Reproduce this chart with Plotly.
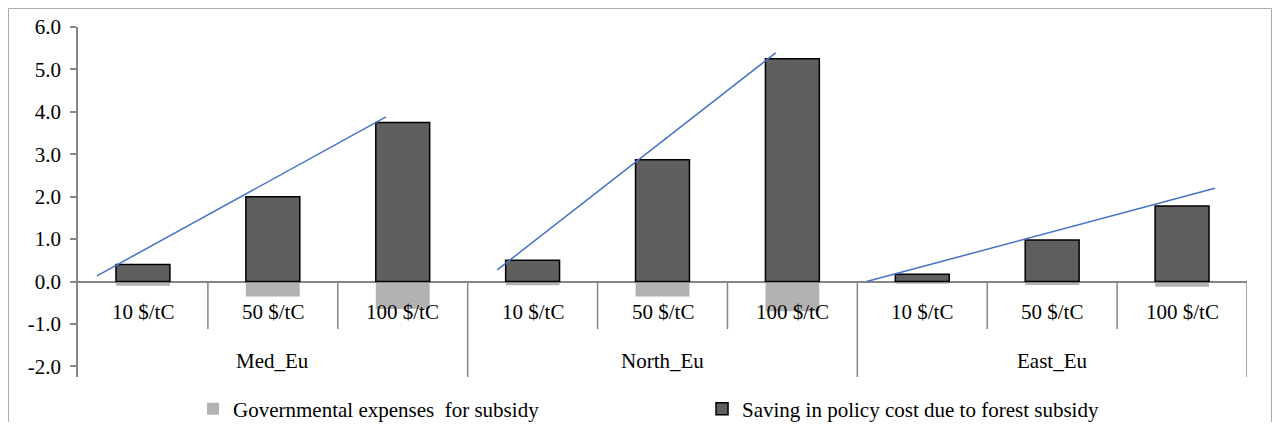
import plotly.graph_objects as go

# ---- data ----
groups = ["Med_Eu", "North_Eu", "East_Eu"]
prices = ["10 $/tC", "50 $/tC", "100 $/tC"]
gov_expenses = [-0.10, -0.35, -0.65, -0.09, -0.35, -0.70, -0.05, -0.08, -0.12]
saving = [0.40, 2.00, 3.75, 0.50, 2.87, 5.25, 0.17, 0.98, 1.78]
# hand-drawn trend lines per group: category-position start/end and value start/end
trend_x = [[-0.354, 1.871], [2.728, 4.871], [5.571, 8.253]]
trend_y = [[0.135, 3.88], [0.276, 5.39], [0.0, 2.20]]
y_ticks = [-2, -1, 0, 1, 2, 3, 4, 5, 6]

FONT = "Liberation Serif, Times New Roman, serif"
FS = 21
AX = "#868686"
n_cat = len(groups) * len(prices)
xpos = list(range(n_cat))

fig = go.Figure()
fig.add_trace(go.Bar(x=xpos, y=gov_expenses, name="Governmental expenses  for subsidy",
                     marker=dict(color="#B2B2B2", line=dict(width=0)), width=0.415))
fig.add_trace(go.Bar(x=xpos, y=saving, name="Saving in policy cost due to forest subsidy",
                     marker=dict(color="#5F5F5F", line=dict(color="#000000", width=1.5)), width=0.415))
for tx, ty in zip(trend_x, trend_y):
    fig.add_trace(go.Scatter(x=tx, y=ty, mode="lines", showlegend=False,
                             line=dict(color="#4472C4", width=1.5), hoverinfo="skip"))

shapes = []
ylo = -2.25
# category dividers
for k in range(1, n_cat + 1):
    long = (k % len(prices) == 0)
    shapes.append(dict(type="line", xref="x", yref="y", x0=k - 0.5, x1=k - 0.5,
                       y0=0, y1=ylo if long else -1.12, line=dict(color=AX, width=1.5)))
# outer border
shapes.append(dict(type="rect", xref="paper", yref="paper", x0=-0.0595, x1=1.021,
                   y0=-0.2, y1=1.053, line=dict(color="#A6A6A6", width=1)))

annotations = []
for i in range(n_cat):
    annotations.append(dict(x=i, y=-0.72, xref="x", yref="y", text=prices[i % len(prices)],
                            showarrow=False, font=dict(family=FONT, size=FS, color="black")))
for g, name in enumerate(groups):
    annotations.append(dict(x=g * len(prices) + 1, y=-1.87, xref="x", yref="y", text=name,
                            showarrow=False, font=dict(family=FONT, size=FS, color="black")))

fig.update_layout(
    width=1264, height=414,
    margin=dict(l=70, r=25, t=19, b=45, autoexpand=False),
    barmode="relative",
    plot_bgcolor="white", paper_bgcolor="white",
    font=dict(family=FONT, size=FS, color="black"),
    shapes=shapes, annotations=annotations,
    legend=dict(orientation="h", x=0.0984, xanchor="left", y=-0.092, yanchor="middle",
                font=dict(family=FONT, size=FS, color="black"),
                entrywidth=464, entrywidthmode="pixels", itemwidth=30, traceorder="normal"),
    showlegend=True,
)
fig.update_xaxes(range=[-0.5, n_cat - 0.5], showticklabels=False, showgrid=False,
                 zeroline=False, showline=False, ticks="")
fig.update_yaxes(range=[ylo, 6.0], tickvals=y_ticks, ticktext=[f"{v:.1f}" for v in y_ticks],
                 showgrid=False, showline=True, linecolor=AX, linewidth=1.5,
                 ticks="outside", ticklen=6, tickcolor=AX, tickwidth=1.5,
                 zeroline=True, zerolinecolor=AX, zerolinewidth=1.5,
                 tickfont=dict(family=FONT, size=FS, color="black"), ticklabelstandoff=5)

fig.write_html("out.html")
